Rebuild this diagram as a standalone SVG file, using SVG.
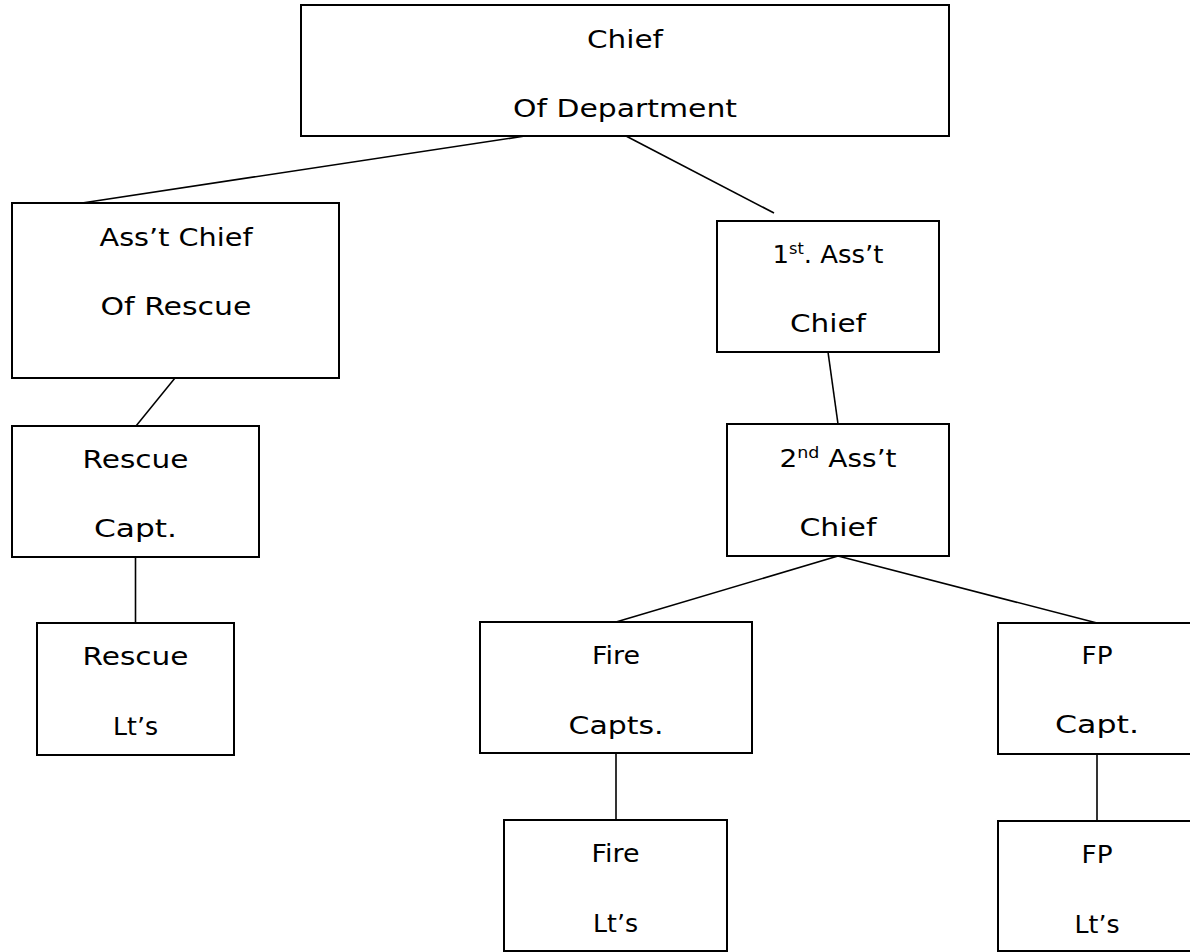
<svg xmlns="http://www.w3.org/2000/svg" width="1190" height="952" viewBox="0 0 1190 952">
<style>
.box{fill:#fff;stroke:#000;stroke-width:2}
.lbl{font-family:"DejaVu Sans","Liberation Sans",sans-serif;font-size:24px;fill:#000;text-anchor:middle}
.sup{font-size:15px}
.conn line{stroke:#000;stroke-width:1.6}
</style>
<rect width="1190" height="952" fill="#fff"/>
<g class="conn" id="connectors">
<line x1="525" y1="136" x2="82" y2="203"/>
<line x1="626" y1="136" x2="774" y2="213"/>
<line x1="175" y1="378" x2="136" y2="426"/>
<line x1="135.5" y1="557" x2="135.5" y2="623"/>
<line x1="828" y1="352" x2="838" y2="424"/>
<line x1="838" y1="556" x2="616" y2="622"/>
<line x1="838" y1="556" x2="1097" y2="623"/>
<line x1="616" y1="753" x2="616" y2="820"/>
<line x1="1097" y1="754" x2="1097" y2="821"/>
</g>
<g id="chief">
<rect class="box" x="301" y="5" width="648" height="131"/>
<text class="lbl" x="625" y="48" textLength="76" lengthAdjust="spacingAndGlyphs">Chief</text>
<text class="lbl" x="625" y="117" textLength="224" lengthAdjust="spacingAndGlyphs">Of Department</text>
</g>
<g id="asst-chief-rescue">
<rect class="box" x="12" y="203" width="327" height="175"/>
<text class="lbl" x="176" y="246" textLength="153" lengthAdjust="spacingAndGlyphs">Ass’t Chief</text>
<text class="lbl" x="176" y="315" textLength="151" lengthAdjust="spacingAndGlyphs">Of Rescue</text>
</g>
<g id="first-asst-chief">
<rect class="box" x="717" y="221" width="222" height="131"/>
<text class="lbl" x="828" y="263" textLength="111" lengthAdjust="spacingAndGlyphs">1<tspan class="sup" dy="-9">st</tspan><tspan dy="9">. Ass’t</tspan></text>
<text class="lbl" x="828" y="332" textLength="76" lengthAdjust="spacingAndGlyphs">Chief</text>
</g>
<g id="second-asst-chief">
<rect class="box" x="727" y="424" width="222" height="132"/>
<text class="lbl" x="838" y="467" textLength="117" lengthAdjust="spacingAndGlyphs">2<tspan class="sup" dy="-9">nd</tspan><tspan dy="9"> Ass’t</tspan></text>
<text class="lbl" x="838" y="536" textLength="77" lengthAdjust="spacingAndGlyphs">Chief</text>
</g>
<g id="rescue-capt">
<rect class="box" x="12" y="426" width="247" height="131"/>
<text class="lbl" x="135.5" y="468" textLength="106" lengthAdjust="spacingAndGlyphs">Rescue</text>
<text class="lbl" x="135.5" y="537" textLength="83" lengthAdjust="spacingAndGlyphs">Capt.</text>
</g>
<g id="rescue-lts">
<rect class="box" x="37" y="623" width="197" height="132"/>
<text class="lbl" x="135.5" y="665" textLength="106" lengthAdjust="spacingAndGlyphs">Rescue</text>
<text class="lbl" x="135.5" y="735" textLength="45" lengthAdjust="spacingAndGlyphs">Lt’s</text>
</g>
<g id="fire-capts">
<rect class="box" x="480" y="622" width="272" height="131"/>
<text class="lbl" x="616" y="664" textLength="48" lengthAdjust="spacingAndGlyphs">Fire</text>
<text class="lbl" x="616" y="734" textLength="95" lengthAdjust="spacingAndGlyphs">Capts.</text>
</g>
<g id="fire-lts">
<rect class="box" x="504" y="820" width="223" height="131"/>
<text class="lbl" x="615.5" y="862" textLength="48" lengthAdjust="spacingAndGlyphs">Fire</text>
<text class="lbl" x="615.5" y="932" textLength="45" lengthAdjust="spacingAndGlyphs">Lt’s</text>
</g>
<g id="fp-capt">
<rect class="box" x="998" y="623" width="198" height="131"/>
<text class="lbl" x="1097" y="664" textLength="31" lengthAdjust="spacingAndGlyphs">FP</text>
<text class="lbl" x="1097" y="733" textLength="84" lengthAdjust="spacingAndGlyphs">Capt.</text>
</g>
<g id="fp-lts">
<rect class="box" x="998" y="821" width="198" height="130"/>
<text class="lbl" x="1097" y="863" textLength="31" lengthAdjust="spacingAndGlyphs">FP</text>
<text class="lbl" x="1097" y="933" textLength="45" lengthAdjust="spacingAndGlyphs">Lt’s</text>
</g>
</svg>
